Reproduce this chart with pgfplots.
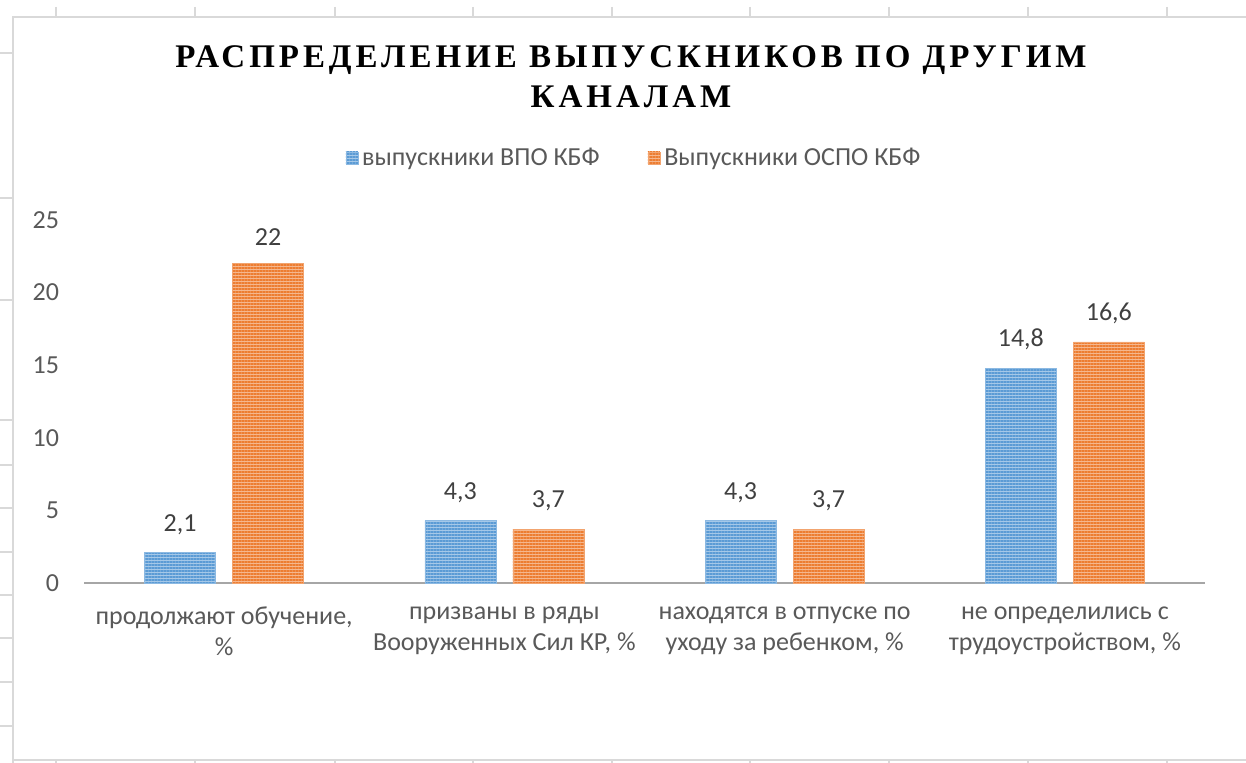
\documentclass[border=0pt]{standalone}
\usepackage{fontspec}
\setmainfont{Carlito}
\newfontfamily\titlefont[LetterSpace=12, BoldFont={Liberation Serif Bold}]{Liberation Serif}
\usepackage{pgfplots}
\pgfplotsset{compat=1.18}
\usetikzlibrary{patterns.meta}
\definecolor{cblue}{HTML}{5B9BD5}
\definecolor{corange}{HTML}{ED7D31}
\definecolor{tgray}{HTML}{595959}
\definecolor{lgray}{HTML}{404040}
\definecolor{sheet}{HTML}{D9D9D9}
\definecolor{axgray}{HTML}{A6A6A6}

\begin{document}
\begin{tikzpicture}
\useasboundingbox (0,0) rectangle (623pt,-381.5pt);
\begin{scope}[x=0.5pt,y=-0.5pt, draw=sheet, line width=0.7pt]
\draw (13,763) -- (13,17) -- (1246,17);
\draw (13,760) -- (1246,760);
\foreach \x in {56,195,335,473,612,750,889,1028,1167} \draw (\x,7) -- (\x,17);
\foreach \x in {56,195,335,473,612,750,889,1028,1167} \draw (\x,760) -- (\x,763);
\foreach \y in {53,198,300,420,465,508,552,595,638,682,726} \draw (0,\y) -- (13,\y);
\end{scope}
\node[font=\titlefont\bfseries\fontsize{16.5}{19}\selectfont, inner sep=0pt] at (315.5pt,-30pt) {РАСПРЕДЕЛЕНИЕ ВЫПУСКНИКОВ ПО ДРУГИМ};
\node[font=\titlefont\bfseries\fontsize{16.5}{19}\selectfont, inner sep=0pt] at (315.5pt,-48.5pt) {КАНАЛАМ};
\begin{axis}[
  at={(42pt,-291.5pt)}, anchor=south west,
  scale only axis, width=560.5pt, height=181.5pt,
  xmin=-0.5, xmax=3.5, ymin=0, ymax=25,
  ytick={0,5,10,15,20,25},
  xtick={0,1,2,3},
  xticklabels={{продолжают обучение,\\\%},{призваны в ряды\\Вооруженных Сил КР, \%},{находятся в отпуске по\\уходу за ребенком, \%},{не определились с\\трудоустройством, \%}},
  axis x line*=bottom, axis y line*=left,
  x axis line style={draw=axgray, line width=1.1pt, -},
  y axis line style={draw=none},
  major tick style={draw=none},
  /pgf/number format/assume math mode=true,
  tick label style={font=\fontsize{13}{15.5}\selectfont, text=tgray},
  xticklabel style={align=center, yshift=-4pt},
  yticklabel style={xshift=-9pt},
  ybar=8.5pt, bar width=35.5pt,
  nodes near coords,
  every node near coord/.append style={font=\fontsize{13}{15}\selectfont, text=lgray, /pgf/number format/use comma, /pgf/number format/assume math mode=true, yshift=5.5pt},
  legend style={at={(0.4915,1.171)}, anchor=center, draw=none, legend columns=2,
    font=\fontsize{13}{15}\selectfont, text=tgray,
    /tikz/every even column/.append style={column sep=22pt}},
  legend image code/.code={\path[#1] (0pt,-3pt) rectangle (6pt,3pt);},
]
\addplot[draw=cblue!70!white, line width=0.3pt, fill=cblue!55!white, postaction={pattern={Lines[angle=0,distance=1.5pt,line width=0.8pt]}, pattern color=cblue}]
  coordinates {(0,2.1) (1,4.3) (2,4.3) (3,14.8)};
\addplot[draw=corange!70!white, line width=0.3pt, fill=corange!55!white, postaction={pattern={Lines[angle=0,distance=1.5pt,line width=0.8pt]}, pattern color=corange}]
  coordinates {(0,22) (1,3.7) (2,3.7) (3,16.6)};
\legend{выпускники ВПО КБФ, Выпускники ОСПО КБФ}
\end{axis}
\end{tikzpicture}
\end{document}
